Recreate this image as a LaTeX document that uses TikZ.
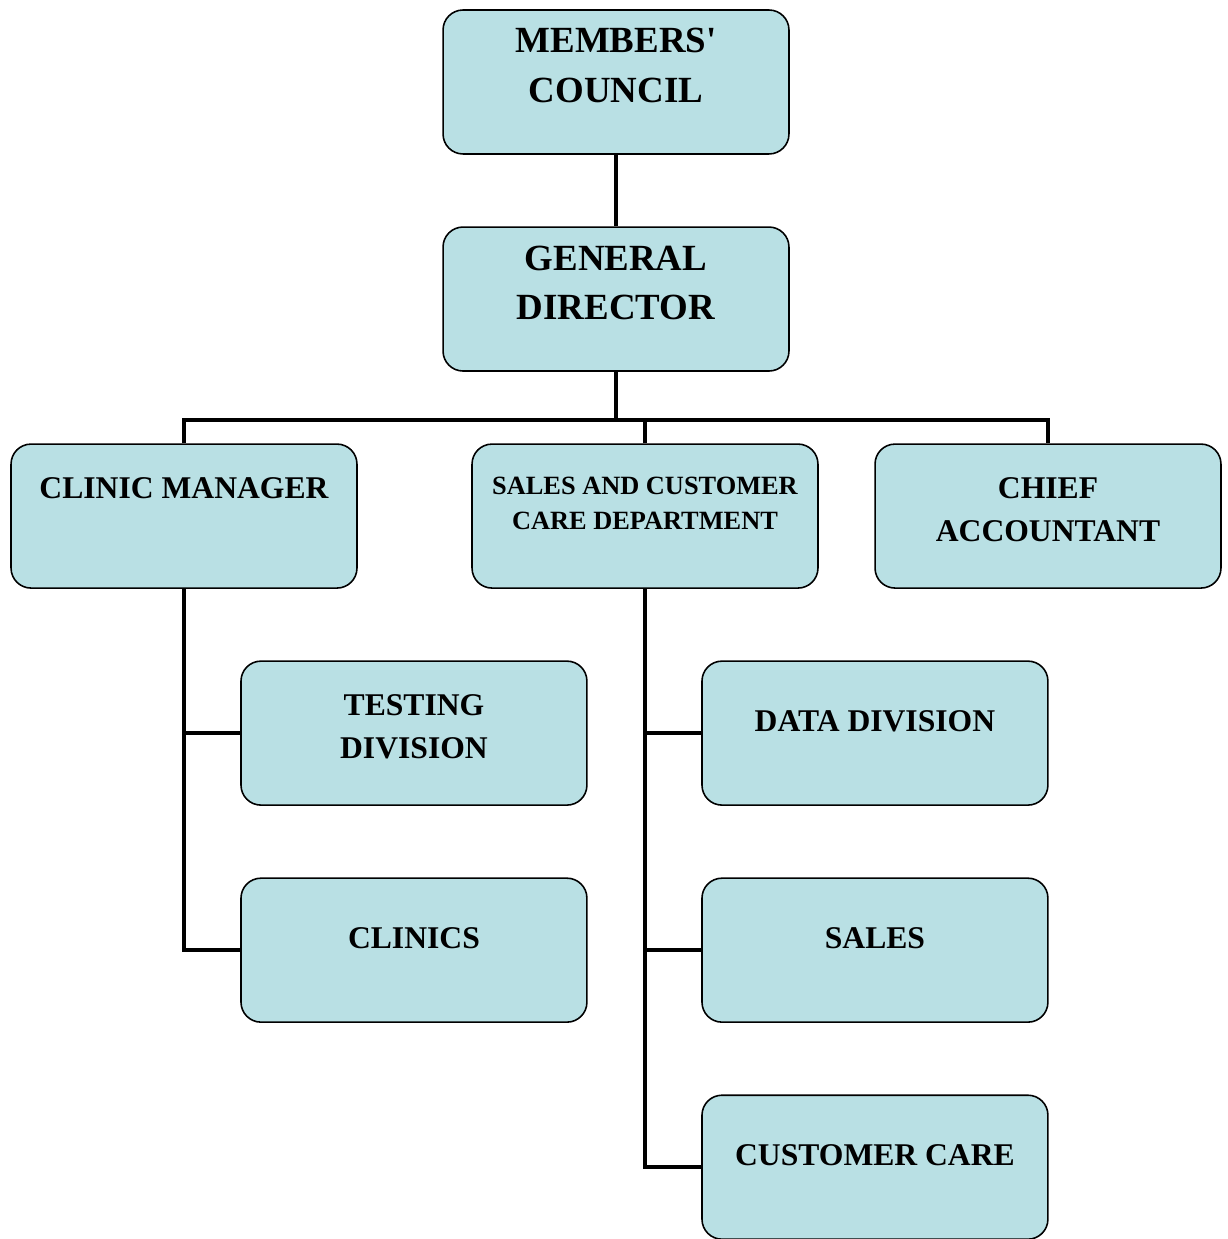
\documentclass[tikz,border=0pt]{standalone}
\usepackage{fontspec}
\setmainfont{Liberation Serif}[Ligatures=TeXOff]
\usepackage{xcolor}
\usepackage{tikz}
\usetikzlibrary{positioning}
\definecolor{boxfill}{RGB}{185,224,228}

\begin{document}
\begin{tikzpicture}[x=0.02cm, y=-0.02cm, node distance=1.43cm,
    box/.style={rectangle, rounded corners=0.4cm, draw, line width=0.9pt, fill=boxfill, minimum width=6.92cm, minimum height=2.88cm, inner sep=0pt},
    title/.style={inner sep=0pt, align=center, font=\bfseries\fontsize{18}{24.5}\selectfont},
    big/.style={font=\bfseries\fontsize{21}{28}\selectfont},
    small/.style={font=\bfseries\fontsize{15}{20}\selectfont},
    link/.style={line width=2.6pt}]
    \useasboundingbox (0,0) rectangle (1227,1239);

    % boxes
    \node[box] (mc) at (616,82) {};
    \node[box, below=of mc] (gd) {};
    \node[box, below=of gd, xshift=0.58cm] (sc) {};
    \node[box, left=2.27cm of sc] (cm) {};
    \node[box, right=1.11cm of sc] (ca) {};
    \node[box, below=of cm, xshift=4.6cm] (td) {};
    \node[box, below=of td] (cl) {};
    \node[box, below=of sc, xshift=4.6cm] (dd) {};
    \node[box, below=of dd] (sa) {};
    \node[box, below=of sa] (cc) {};

    % titles
    \node[title, big, below=0.38cm of mc.north] (mct) {MEMBERS'\\COUNCIL};
    \node[title, big, below=0.38cm of gd.north] (gdt) {GENERAL\\DIRECTOR};
    \node[title, below=0.68cm of cm.north] (cmt) {CLINIC MANAGER};
    \node[title, small, below=0.66cm of sc.north] (sct) {SALES AND CUSTOMER\\CARE DEPARTMENT};
    \node[title, below=0.68cm of ca.north] (cat) {CHIEF\\ACCOUNTANT};
    \node[title, below=0.68cm of td.north] (tdt) {TESTING\\DIVISION};
    \node[title, below=0.99cm of cl.north] (clt) {CLINICS};
    \node[title, below=1.0cm of dd.north] (ddt) {DATA DIVISION};
    \node[title, below=0.99cm of sa.north] (sat) {SALES};
    \node[title, below=1.0cm of cc.north] (cct) {CUSTOMER CARE};

    % connectors
    \coordinate[below=0.96cm of gd.south] (bus);
    \draw[link] (mc) -- (gd);
    \draw[link] (gd) -- (bus);
    \draw[link] (cm.north) |- (bus) -| (ca.north);
    \draw[link] (sc.north) -- (sc.north |- bus);
    \draw[link] (cm.south) |- (cl.west);
    \draw[link] (cm.south |- td.west) -- (td.west);
    \draw[link] (sc.south) |- (cc.west);
    \draw[link] (sc.south |- dd.west) -- (dd.west);
    \draw[link] (sc.south |- sa.west) -- (sa.west);
\end{tikzpicture}
\end{document}
